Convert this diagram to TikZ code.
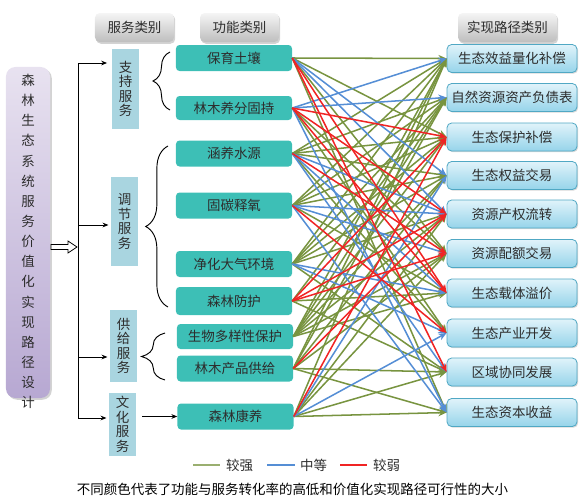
\documentclass[tikz,border=0pt]{standalone}
\usepackage{fontspec}
\setmainfont{Noto Sans CJK SC}
\usetikzlibrary{arrows.meta,shadows,decorations.pathreplacing}

\definecolor{funcfill}{RGB}{61,191,182}
\definecolor{svcfill}{RGB}{169,213,224}
\definecolor{roottop}{RGB}{232,226,240}
\definecolor{rootbottom}{RGB}{183,168,210}
\definecolor{headtop}{RGB}{245,245,245}
\definecolor{headbottom}{RGB}{190,190,190}
\definecolor{pathtop}{RGB}{224,243,250}
\definecolor{pathbottom}{RGB}{150,212,234}
\definecolor{pathborder}{RGB}{80,168,196}
\definecolor{strongcol}{RGB}{120,148,64}
\definecolor{midcol}{RGB}{85,142,213}
\definecolor{weakcol}{RGB}{240,36,36}
\definecolor{textcol}{RGB}{45,45,45}

\tikzset{
    header/.style = {
        rounded corners = 4pt,
        top color = headtop,
        bottom color = headbottom,
        minimum width = 2.37cm,
        minimum height = 0.87cm,
        inner sep = 0pt,
        drop shadow = {opacity = .35, shadow xshift = 1pt, shadow yshift = -1.5pt},
        font = \fontsize{11.5pt}{13pt}\selectfont,
        text = textcol
    },
    svcbox/.style = {
        fill = svcfill,
        minimum width = 0.81cm,
        inner sep = 0pt,
        align = center,
        font = \fontsize{11.5pt}{12.4pt}\selectfont,
        text = textcol
    },
    funcbox/.style = {
        fill = funcfill,
        rounded corners = 3pt,
        minimum width = 3.48cm,
        minimum height = 0.78cm,
        inner sep = 0pt,
        font = \fontsize{11.5pt}{13pt}\selectfont,
        text = textcol
    },
    pathbox/.style = {
        draw = pathborder,
        line width = .7pt,
        rounded corners = 4pt,
        top color = pathtop,
        bottom color = pathbottom,
        minimum width = 3.9cm,
        minimum height = 0.84cm,
        inner sep = 0pt,
        drop shadow = {opacity = .3, shadow xshift = 1pt, shadow yshift = -1pt},
        font = \fontsize{11.5pt}{13pt}\selectfont,
        text = textcol
    },
    link/.style = {
        line width = 1.3pt,
        -{Stealth[length = 7pt, width = 6pt]}
    },
    strongline/.style = {link, strongcol},
    midline/.style = {link, midcol},
    weakline/.style = {link, weakcol},
    treearrow/.style = {
        line width = .8pt,
        -{Stealth[length = 5pt, width = 4pt]}
    },
    bracedeco/.style = {
        decorate,
        line width = .8pt,
        decoration = {brace, amplitude = #1}
    }
}

\begin{document}
\begin{tikzpicture}[x = 0.03cm, y = -0.03cm]
    \useasboundingbox
        (0, 0) rectangle (588, 502)
    ;

    % Headers
    \node [header] (hsvc) at (134.5, 27.5) {服务类别};
    \node [header] (hfunc) at (239.5, 27.5) {功能类别};
    \node [header, minimum width = 2.97cm] (hpath) at (507.5, 27.5) {实现路径类别};

    % Root
    \node [
        rounded corners = 8pt,
        top color = roottop,
        bottom color = rootbottom,
        minimum width = 1.32cm,
        minimum height = 9.93cm,
        drop shadow = {opacity = .35, shadow xshift = 1.5pt, shadow yshift = -1.5pt}
    ] (root) at (28, 232.5) {};
    \node [
        align = center,
        text = textcol,
        font = \fontsize{11.5pt}{17.2pt}\selectfont
    ] (roottext) at (28, 241.5)
        {森\\林\\生\\态\\系\\统\\服\\务\\价\\值\\化\\实\\现\\路\\径\\设\\计};

    % Services
    \node [svcbox, minimum height = 2.4cm] (svc1) at (125.5, 89) {支\\持\\服\\务};
    \node [svcbox, minimum height = 2.67cm] (svc2) at (124.5, 221.5) {调\\节\\服\\务};
    \node [svcbox, minimum height = 2.16cm] (svc3) at (123.5, 346) {供\\给\\服\\务};
    \node [svcbox, minimum height = 1.89cm] (svc4) at (122.5, 424.5) {文\\化\\服\\务};

    % Functions
    \node [funcbox] (f1) at (234, 58) {保育土壤};
    \node [funcbox, minimum height = 0.72cm] (f2) at (234, 108) {林木养分固持};
    \node [funcbox] (f3) at (234, 153.5) {涵养水源};
    \node [funcbox] (f4) at (234, 205.5) {固碳释氧};
    \node [funcbox] (f5) at (234, 264) {净化大气环境};
    \node [funcbox, minimum height = 0.84cm] (f6) at (234, 301) {森林防护};
    \node [funcbox, minimum height = 0.75cm] (f7) at (235, 336.5) {生物多样性保护};
    \node [funcbox] (f8) at (235, 368.5) {林木产品供给};
    \node [funcbox] (f9) at (235.5, 416.5) {森林康养};

    % Paths
    \foreach \i/\y/\txt in {
        1/58.5/生态效益量化补偿,
        2/97.5/自然资源资产负债表,
        3/137/生态保护补偿,
        4/175.5/生态权益交易,
        5/214/资源产权流转,
        6/253.5/资源配额交易,
        7/293/生态载体溢价,
        8/333/生态产业开发,
        9/372/区域协同发展,
        10/412.5/生态资本收益}
        \node [pathbox] (p\i) at (512, \y) {\txt};

    % Tree
    \coordinate (trunktop) at (78, 63);
    \coordinate (trunkbot) at (78, 418);
    \coordinate (trunk2) at (78, 225);
    \coordinate (trunk3) at (78, 357);
    \draw
        [line width = .8pt]
        (trunktop) -- (trunkbot)
    ;
    \draw [treearrow, shorten > = 4pt] (trunktop) -- (trunktop -| svc1.west);
    \draw [treearrow, shorten > = 2pt] (trunk2) -- (trunk2 -| svc2.west);
    \draw [treearrow, shorten > = 2pt] (trunk3) -- (trunk3 -| svc3.west);
    \draw [treearrow, shorten > = 2pt] (trunkbot) -- (trunkbot -| svc4.west);
    \filldraw
        [fill = white, line width = .6pt]
        (51, 244.5) -- (68, 244.5) -- (68, 241)
        -- (77, 247)
        -- (68, 253) -- (68, 249.5) -- (51, 249.5) -- cycle
    ;

    % Braces
    \draw [bracedeco = 14.5pt] (170, 110) -- (170, 52);
    \draw [bracedeco = 19pt] (168, 307) -- (168, 146);
    \draw [bracedeco = 20pt] (165, 380) -- (165, 333);
    \draw [treearrow] (svc4.east |- f9) ++(6, 0) -- (f9.west);

    % Links
    \foreach \s/\t/\c in {
        1/1/strongline, 1/3/strongline, 1/6/strongline, 1/10/strongline,
        2/6/strongline, 2/8/strongline,
        3/1/strongline, 3/2/strongline, 3/3/strongline, 3/4/strongline, 3/8/strongline,
        4/1/strongline, 4/2/strongline, 4/3/strongline, 4/4/strongline, 4/7/strongline,
        5/1/strongline, 5/2/strongline, 5/3/strongline, 5/4/strongline, 5/5/strongline, 5/9/strongline,
        6/2/strongline, 6/7/strongline, 6/9/strongline,
        7/1/strongline, 7/2/strongline, 7/3/strongline, 7/4/strongline, 7/5/strongline, 7/6/strongline, 7/7/strongline,
        8/1/strongline, 8/2/strongline, 8/4/strongline, 8/6/strongline, 8/9/strongline, 8/10/strongline,
        9/1/strongline, 9/5/strongline, 9/6/strongline, 9/9/strongline, 9/10/strongline,
        1/4/midline, 1/5/midline,
        2/1/midline, 2/2/midline, 2/10/midline,
        3/5/midline, 3/7/midline, 3/9/midline,
        4/5/midline, 4/6/midline, 4/10/midline,
        5/7/midline, 5/8/midline,
        9/4/midline, 9/8/midline,
        1/7/weakline, 1/9/weakline,
        2/3/weakline, 2/5/weakline, 2/7/weakline,
        3/6/weakline,
        4/8/weakline,
        6/3/weakline, 6/5/weakline, 6/6/weakline,
        8/5/weakline,
        9/3/weakline}
        \draw [\c] (f\s.east) -- (p\t.west);

    % Legend
    \coordinate (lg1) at (193, 465);
    \coordinate (lg2) at (267, 465);
    \coordinate (lg3) at (340, 465);
    \draw [strongcol!75, line width = 1.5pt] (lg1) -- ++(27, 0);
    \draw [midcol, line width = 1.5pt] (lg2) -- ++(28, 0);
    \draw [weakcol, line width = 1.5pt] (lg3) -- ++(27, 0);
    \node [anchor = west, text = textcol, font = \fontsize{11.5pt}{13pt}\selectfont] (lgt1) at (222, 465) {较强};
    \node [anchor = west, text = textcol, font = \fontsize{11.5pt}{13pt}\selectfont] (lgt2) at (296, 465) {中等};
    \node [anchor = west, text = textcol, font = \fontsize{11.5pt}{13pt}\selectfont] (lgt3) at (369, 465) {较弱};

    % Caption
    \node [text = black, font = \fontsize{11.5pt}{13pt}\selectfont] (caption) at (292.5, 489)
        {不同颜色代表了功能与服务转化率的高低和价值化实现路径可行性的大小};

\end{tikzpicture}
\end{document}
